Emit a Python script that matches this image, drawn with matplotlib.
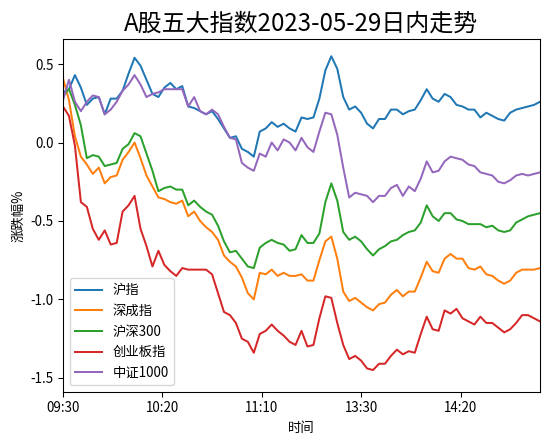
import matplotlib
matplotlib.use('Agg')
import matplotlib.pyplot as plt
from matplotlib.ticker import MultipleLocator
import numpy as np

plt.rcParams['font.family'] = ['Noto Sans CJK SC', 'DejaVu Sans']
plt.rcParams['axes.unicode_minus'] = False

# minutes from 09:30 (lunch break removed), one reading every 3 minutes
minutes = np.arange(0, 241, 3)
tick_pos = [0, 50, 100, 150, 200]
tick_labels = ['09:30', '10:20', '11:10', '13:30', '14:20']

sh = [0.32, 0.34, 0.43, 0.35, 0.24, 0.28, 0.29, 0.18, 0.28, 0.28,
      0.33, 0.44, 0.54, 0.49, 0.40, 0.31, 0.29, 0.35, 0.38, 0.34,
      0.36, 0.23, 0.22, 0.20, 0.18, 0.20, 0.15, 0.09, 0.03, 0.04,
      -0.04, -0.06, -0.09, 0.07, 0.09, 0.13, 0.10, 0.12, 0.09, 0.07,
      0.16, 0.15, 0.16, 0.28, 0.46, 0.55, 0.47, 0.29, 0.21, 0.23,
      0.19, 0.12, 0.09, 0.15, 0.15, 0.21, 0.21, 0.18, 0.20,
      0.21, 0.27, 0.34, 0.28, 0.26, 0.31, 0.29, 0.24, 0.23, 0.21,
      0.21, 0.16, 0.19, 0.17, 0.15, 0.14, 0.19, 0.21, 0.22, 0.23, 0.24, 0.26]

sz = [0.41, 0.27, 0.04, -0.09, -0.14, -0.20, -0.16, -0.26, -0.22, -0.21,
      -0.11, -0.06, 0.00, -0.10, -0.21, -0.28, -0.35, -0.36, -0.38, -0.39,
      -0.37, -0.47, -0.44, -0.50, -0.54, -0.57, -0.62, -0.72, -0.76, -0.79,
      -0.86, -0.96, -1.00, -0.83, -0.84, -0.81, -0.85, -0.83, -0.85, -0.85,
      -0.84, -0.88, -0.88, -0.75, -0.63, -0.60, -0.74, -0.95, -1.01, -0.99,
      -1.02, -1.05, -1.07, -1.03, -1.02, -0.97, -0.94, -0.98, -0.95,
      -0.95, -0.86, -0.76, -0.82, -0.83, -0.74, -0.71, -0.74, -0.74, -0.80,
      -0.81, -0.79, -0.84, -0.85, -0.88, -0.90, -0.88, -0.83, -0.81, -0.81, -0.81, -0.80]

hs300 = [0.30, 0.34, 0.24, 0.11, -0.10, -0.08, -0.09, -0.15, -0.14, -0.13,
         -0.04, -0.01, 0.06, 0.04, -0.07, -0.18, -0.31, -0.29, -0.28, -0.30,
         -0.30, -0.40, -0.37, -0.41, -0.44, -0.46, -0.53, -0.63, -0.70, -0.69,
         -0.74, -0.79, -0.80, -0.67, -0.64, -0.62, -0.64, -0.65, -0.69, -0.68,
         -0.59, -0.64, -0.64, -0.58, -0.38, -0.26, -0.37, -0.57, -0.62, -0.60,
         -0.63, -0.68, -0.72, -0.68, -0.66, -0.63, -0.62, -0.59, -0.57,
         -0.56, -0.51, -0.40, -0.47, -0.50, -0.45, -0.45, -0.49, -0.50, -0.52,
         -0.52, -0.52, -0.54, -0.53, -0.56, -0.57, -0.56, -0.51, -0.49, -0.47, -0.46, -0.45]

cyb = [0.23, 0.17, -0.02, -0.38, -0.41, -0.55, -0.62, -0.56, -0.65, -0.64,
       -0.44, -0.40, -0.34, -0.55, -0.66, -0.79, -0.69, -0.78, -0.82, -0.85,
       -0.80, -0.81, -0.81, -0.81, -0.81, -0.84, -0.96, -1.08, -1.10, -1.15,
       -1.25, -1.27, -1.34, -1.22, -1.20, -1.16, -1.20, -1.23, -1.27, -1.29,
       -1.20, -1.30, -1.29, -1.12, -0.98, -0.99, -1.15, -1.29, -1.38, -1.36,
       -1.39, -1.44, -1.45, -1.41, -1.41, -1.36, -1.32, -1.35, -1.33,
       -1.34, -1.22, -1.11, -1.19, -1.20, -1.07, -1.09, -1.06, -1.12, -1.14,
       -1.16, -1.11, -1.15, -1.15, -1.18, -1.21, -1.19, -1.15, -1.10, -1.10, -1.12, -1.14]

zz1000 = [0.27, 0.40, 0.26, 0.20, 0.26, 0.30, 0.29, 0.18, 0.21, 0.26,
          0.33, 0.37, 0.43, 0.37, 0.29, 0.31, 0.32, 0.34, 0.34, 0.34,
          0.34, 0.23, 0.29, 0.20, 0.18, 0.21, 0.18, 0.10, 0.03, 0.02,
          -0.13, -0.16, -0.18, -0.07, -0.09, 0.00, -0.05, 0.02, 0.00, -0.05,
          0.03, -0.03, -0.06, 0.07, 0.19, 0.18, 0.05, -0.16, -0.35, -0.32,
          -0.33, -0.34, -0.38, -0.34, -0.34, -0.29, -0.27, -0.34, -0.28,
          -0.31, -0.23, -0.12, -0.19, -0.18, -0.12, -0.09, -0.10, -0.11, -0.14,
          -0.15, -0.19, -0.20, -0.21, -0.25, -0.26, -0.24, -0.21, -0.20, -0.21, -0.20, -0.19]

names = ['沪指', '深成指', '沪深300', '创业板指', '中证1000']
series = [sh, sz, hs300, cyb, zz1000]

fig = plt.figure(figsize=(549 / 96, 439 / 96), dpi=96)
ax = fig.add_axes([63 / 549, 47 / 439, 477 / 549, 353 / 439])

for name, vals in zip(names, series):
    ax.plot(minutes, vals, label=name)

ax.set_xlim(0, 240)
ax.set_ylim(-1.59, 0.66)
ax.yaxis.set_major_locator(MultipleLocator(0.5))
ax.set_xticks(tick_pos)
ax.set_xticklabels(tick_labels)
ax.set_xlabel('时间')
ax.set_ylabel('涨跌幅%')
ax.set_title('A股五大指数2023-05-29日内走势', fontsize=18)
ax.legend(loc='lower left')

fig.savefig('out.png', dpi=96)
